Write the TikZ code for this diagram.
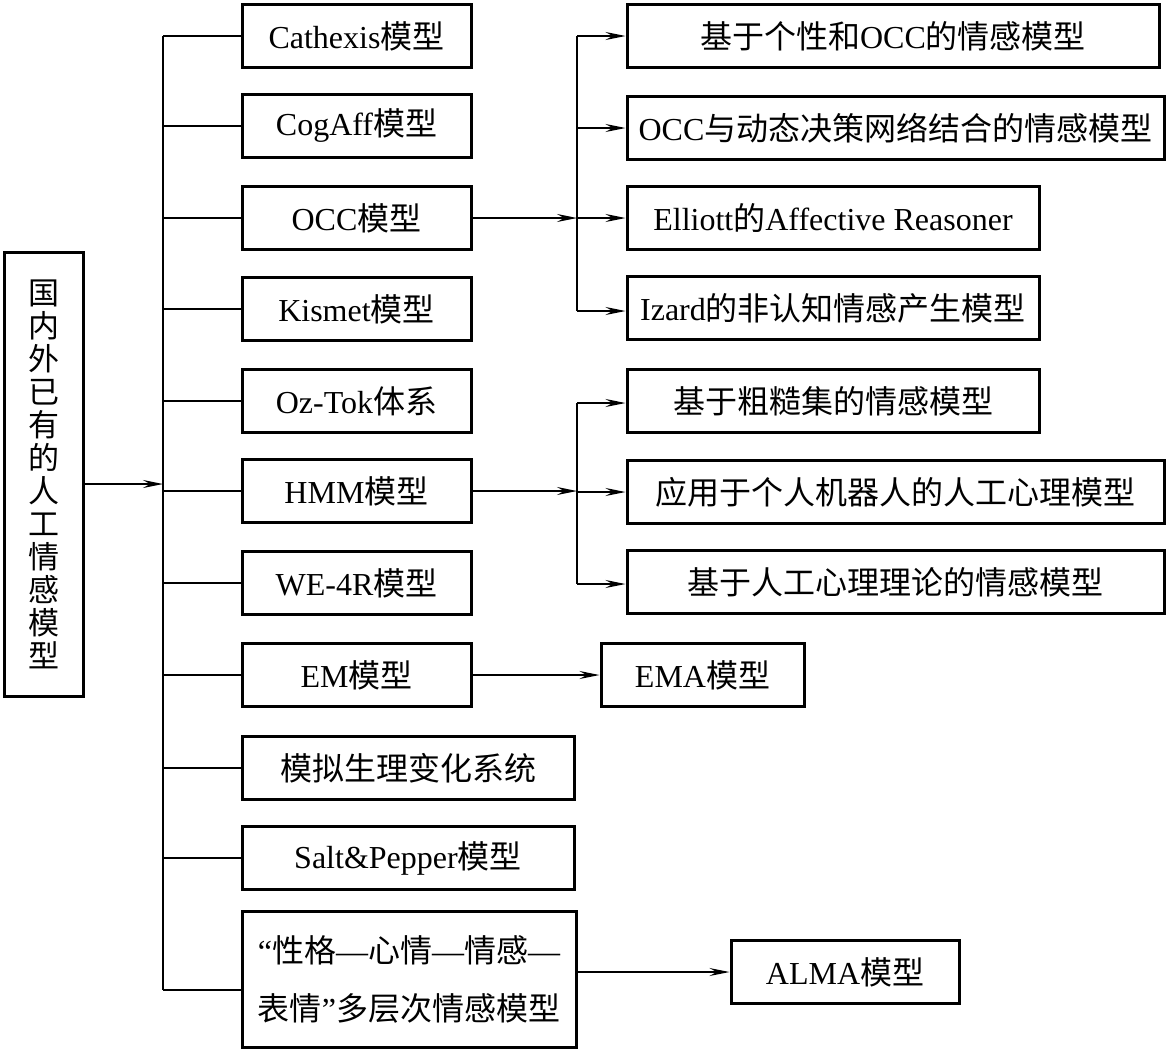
\documentclass[tikz,border=0pt]{standalone}
\usepackage{fontspec}
\setmainfont{Liberation Serif}
\newfontfamily\cjk{Noto Sans CJK SC}
\usetikzlibrary{arrows.meta}
\begin{document}
\begin{tikzpicture}[x=1pt,y=-1pt,
    box/.style={draw, line width=3pt, minimum height=63pt, inner sep=0pt, font=\fontsize{32}{38}\selectfont},
    link/.style={line width=1.4pt},
    arr/.style={link, -{Stealth[length=20pt,width=8pt,inset=7pt]}}]
        \useasboundingbox (0,0) rectangle (1167,1052);
        \coordinate (T1) at (163,36);
        \coordinate (T2) at (163,990);
        \coordinate (S1) at (577,36);
        \coordinate (S2) at (577,311);
        \coordinate (S3) at (577,403);
        \coordinate (S4) at (577,584);
        % root
        \node[box, minimum width=79pt, minimum height=444pt, align=center, font=\cjk\fontsize{31}{33}\selectfont] (root) at (43.5,474)
            {国\\内\\外\\已\\有\\的\\人\\工\\情\\感\\模\\型};
        % first level
        \node[box, minimum width=229pt] (cathexis) at (356.5,36) {Cathexis{\cjk 模型}};
        \node[box, minimum width=229pt] (cogaff) at (356.5,126) {CogAff{\cjk 模型}};
        \node[box, minimum width=229pt] (occ) at (356.5,218) {OCC{\cjk 模型}};
        \node[box, minimum width=229pt] (kismet) at (356.5,309) {Kismet{\cjk 模型}};
        \node[box, minimum width=229pt] (oztok) at (356.5,401) {Oz-Tok{\cjk 体系}};
        \node[box, minimum width=229pt] (hmm) at (356.5,491) {HMM{\cjk 模型}};
        \node[box, minimum width=229pt] (we4r) at (356.5,583) {WE-4R{\cjk 模型}};
        \node[box, minimum width=229pt] (em) at (356.5,675) {EM{\cjk 模型}};
        \node[box, minimum width=332pt] (simu) at (408,768) {\cjk 模拟生理变化系统};
        \node[box, minimum width=332pt] (salt) at (408,858) {Salt\&Pepper{\cjk 模型}};
        \node[box, minimum width=334pt, minimum height=136pt, align=center, font=\fontsize{32}{58}\selectfont] (multi) at (409,979)
            {“{\cjk 性格}—{\cjk 心情}—{\cjk 情感}—\\{\cjk 表情}”{\cjk 多层次情感模型}};
        % second level
        \node[box, minimum width=532pt] (occa) at (893,36) {{\cjk 基于个性和}OCC{\cjk 的情感模型}};
        \node[box, minimum width=537pt] (occb) at (895.5,128) {OCC{\cjk 与动态决策网络结合的情感模型}};
        \node[box, minimum width=412pt] (occc) at (833,218) {Elliott{\cjk 的}Affective Reasoner};
        \node[box, minimum width=412pt] (occd) at (833,308) {Izard{\cjk 的非认知情感产生模型}};
        \node[box, minimum width=412pt] (hmma) at (833,401) {\cjk 基于粗糙集的情感模型};
        \node[box, minimum width=537pt] (hmmb) at (895.5,492) {\cjk 应用于个人机器人的人工心理模型};
        \node[box, minimum width=537pt] (hmmc) at (895.5,582) {\cjk 基于人工心理理论的情感模型};
        \node[box, minimum width=203pt] (ema) at (702.5,675) {EMA{\cjk 模型}};
        \node[box, minimum width=228pt] (alma) at (845,972) {ALMA{\cjk 模型}};
        % trunk
        \draw[arr] ([yshift=-10pt]root.east) -- ([yshift=-10pt]root.east -| T1);
        \draw[link] (T1) -- (T2);
        \draw[link] (T1) -- (cathexis.west);
        \draw[link] (cogaff.west -| T1) -- (cogaff.west);
        \draw[link] (occ.west -| T1) -- (occ.west);
        \draw[link] (kismet.west -| T1) -- (kismet.west);
        \draw[link] (oztok.west -| T1) -- (oztok.west);
        \draw[link] (hmm.west -| T1) -- (hmm.west);
        \draw[link] (we4r.west -| T1) -- (we4r.west);
        \draw[link] (em.west -| T1) -- (em.west);
        \draw[link] (simu.west -| T1) -- (simu.west);
        \draw[link] (salt.west -| T1) -- (salt.west);
        \draw[link] (T2) -- (T2 -| multi.west);
        % OCC branch
        \draw[arr] (occ.east) -- (occ.east -| S1);
        \draw[link] (S1) -- (S2);
        \draw[arr] (S1) -- (occa.west);
        \draw[arr] (occb.west -| S1) -- (occb.west);
        \draw[arr] (occc.west -| S1) -- (occc.west);
        \draw[arr] (S2) -- (S2 -| occd.west);
        % HMM branch
        \draw[arr] (hmm.east) -- (hmm.east -| S3);
        \draw[link] (S3) -- (S4);
        \draw[arr] (S3) -- (S3 -| hmma.west);
        \draw[arr] (hmmb.west -| S3) -- (hmmb.west);
        \draw[arr] (S4) -- (S4 -| hmmc.west);
        % single arrows
        \draw[arr] (em.east) -- (em.east -| ema.west);
        \draw[arr] ([yshift=7pt]multi.east) -- ([yshift=7pt]multi.east -| alma.west);
    \end{tikzpicture}
\end{document}
